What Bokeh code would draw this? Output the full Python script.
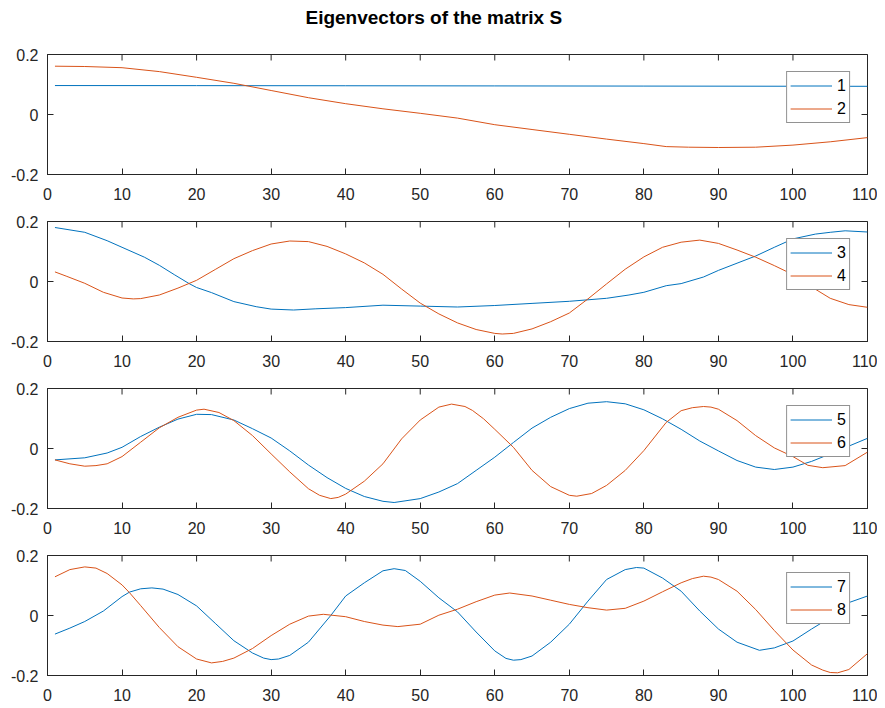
import math
from bokeh.plotting import figure
from bokeh.models import Range1d, FixedTicker, Legend, LegendItem
from bokeh.layouts import column
from bokeh.embed import file_html
from bokeh.resources import INLINE

TITLE = "Eigenvectors of the matrix S"
X_TICKS = [0, 10, 20, 30, 40, 50, 60, 70, 80, 90, 100, 110]
Y_TICKS = [-0.2, 0, 0.2]
Y_TICK_LABELS = {-0.2: "-0.2", 0: "0", 0.2: "0.2"}

# eigenvector 1
x1 = [1, 20, 40, 60, 80, 100, 110]
y1 = [0.0965, 0.0962, 0.0958, 0.0953, 0.0947, 0.0942, 0.094]
# eigenvector 2
x2 = [1, 5, 10, 15, 20, 25, 30, 35, 40, 45, 50, 55, 60, 65, 70, 75, 80, 83, 86, 90, 95, 100, 105, 110]
y2 = [0.161, 0.160, 0.156, 0.143, 0.124, 0.104, 0.080, 0.056, 0.036, 0.019, 0.004, -0.012, -0.034,
      -0.050, -0.066, -0.082, -0.097, -0.107, -0.109, -0.110, -0.109, -0.102, -0.091, -0.077]
# eigenvector 3
x3 = [1, 5, 8, 10, 13, 15, 17, 19, 20, 22, 25, 28, 30, 33, 36, 40, 45, 50, 55, 60, 65, 70, 75, 78,
      80, 83, 85, 88, 90, 92.5, 95, 97.5, 100, 103, 105, 107, 110]
y3 = [0.180, 0.164, 0.136, 0.114, 0.081, 0.054, 0.023, -0.007, -0.020, -0.037, -0.067, -0.084, -0.092,
      -0.095, -0.091, -0.087, -0.079, -0.082, -0.085, -0.080, -0.073, -0.066, -0.056, -0.045, -0.036,
      -0.014, -0.007, 0.015, 0.037, 0.061, 0.085, 0.114, 0.142, 0.158, 0.164, 0.169, 0.165]
# eigenvector 4
x4 = [1, 2.5, 5, 7.5, 10, 11.5, 12.5, 15, 17.5, 20, 22.5, 25, 27.5, 30, 32.5, 35, 37.5, 40, 42.5, 45,
      47.5, 50, 52.5, 55, 57.5, 60, 61, 62.5, 65, 67.5, 70, 72.5, 75, 77.5, 80, 82.5, 85, 87.5, 90,
      92.5, 95, 97.5, 100, 102.5, 105, 107.5, 110]
y4 = [0.032, 0.018, -0.006, -0.036, -0.055, -0.058, -0.057, -0.045, -0.022, 0.004, 0.040, 0.076,
      0.103, 0.125, 0.135, 0.133, 0.117, 0.092, 0.062, 0.024, -0.025, -0.072, -0.108, -0.138, -0.160,
      -0.173, -0.175, -0.173, -0.158, -0.134, -0.105, -0.058, -0.008, 0.041, 0.082, 0.114, 0.131,
      0.138, 0.127, 0.105, 0.081, 0.053, 0.023, -0.018, -0.056, -0.077, -0.086]
# eigenvector 5
x5 = [1, 5, 8, 10, 12.5, 15, 17.5, 20, 22, 25, 27.5, 30, 32.5, 35, 37.5, 40, 42.5, 45, 46.5, 50, 52.5,
      55, 57.5, 60, 62.5, 65, 67.5, 70, 72.5, 75, 77.5, 80, 82.5, 85, 87.5, 90, 92.5, 95, 97.5, 100,
      102.5, 105, 107.5, 110]
y5 = [-0.038, -0.031, -0.015, 0.004, 0.040, 0.071, 0.098, 0.114, 0.113, 0.095, 0.066, 0.035, -0.008,
      -0.055, -0.097, -0.133, -0.160, -0.176, -0.180, -0.167, -0.145, -0.117, -0.073, -0.029, 0.020,
      0.068, 0.104, 0.133, 0.151, 0.156, 0.149, 0.129, 0.099, 0.064, 0.025, -0.008, -0.040, -0.062,
      -0.070, -0.062, -0.043, -0.018, 0.008, 0.034]
# eigenvector 6
x6 = [1, 3, 5, 6.5, 8, 10, 12.5, 15, 17.5, 20, 21, 23, 25, 27.5, 30, 32.5, 35, 36.5, 38, 39, 40, 42.5,
      45, 47.5, 50, 52.5, 54.2, 56, 57, 58.5, 60, 62.5, 65, 67.5, 70, 71, 73, 75, 77.5, 80, 83, 85,
      86.5, 88, 89, 90, 92.5, 95, 97.5, 100, 102, 104, 107, 110]
y6 = [-0.038, -0.051, -0.059, -0.057, -0.051, -0.027, 0.021, 0.069, 0.104, 0.128, 0.131, 0.120, 0.093,
      0.043, -0.018, -0.078, -0.134, -0.156, -0.167, -0.163, -0.152, -0.109, -0.051, 0.032, 0.095,
      0.138, 0.148, 0.140, 0.127, 0.099, 0.064, 0.004, -0.073, -0.127, -0.156, -0.159, -0.150,
      -0.123, -0.073, -0.007, 0.087, 0.126, 0.136, 0.140, 0.138, 0.131, 0.093, 0.043, 0.002, -0.027,
      -0.056, -0.064, -0.057, -0.012]
# eigenvector 7
x7 = [1, 3, 5, 7.5, 10, 11, 12.5, 14, 15.5, 17.5, 20, 22.5, 25, 27.5, 29, 30, 31, 32.5, 35, 38, 40,
      42.5, 45, 46.5, 48, 50, 52.5, 55, 57.5, 60, 61.5, 62.5, 63.5, 65, 67.5, 70, 72.5, 75, 77.5, 79,
      80, 82.5, 85, 87.5, 90, 92.5, 95.5, 97.5, 100, 102.5, 105, 107.5, 110]
y7 = [-0.062, -0.042, -0.020, 0.015, 0.063, 0.078, 0.089, 0.092, 0.088, 0.070, 0.032, -0.026, -0.084,
      -0.125, -0.142, -0.147, -0.145, -0.133, -0.089, 0.000, 0.065, 0.109, 0.149, 0.156, 0.150,
      0.114, 0.059, 0.012, -0.055, -0.118, -0.143, -0.149, -0.147, -0.135, -0.089, -0.029, 0.048,
      0.120, 0.153, 0.160, 0.158, 0.125, 0.081, 0.015, -0.045, -0.089, -0.116, -0.108, -0.085,
      -0.045, -0.007, 0.043, 0.065]
# eigenvector 8
x8 = [1, 3, 5, 6.5, 8, 10, 11, 12.5, 15, 17.5, 20, 22, 23.5, 25, 27.5, 30, 32.5, 35, 37, 40, 42.5, 45,
      47, 50, 52.5, 55, 57.5, 60, 62, 65, 67.5, 70, 72.5, 75, 77.5, 80, 82.5, 85, 86.5, 88, 89, 90,
      92.5, 95, 97.5, 100, 102.5, 104, 105, 106, 107.5, 110]
y8 = [0.129, 0.153, 0.162, 0.158, 0.140, 0.102, 0.076, 0.033, -0.040, -0.104, -0.145, -0.158, -0.153,
      -0.142, -0.110, -0.067, -0.029, -0.002, 0.004, -0.004, -0.020, -0.032, -0.037, -0.029, 0.001,
      0.021, 0.046, 0.068, 0.075, 0.065, 0.051, 0.037, 0.026, 0.018, 0.024, 0.048, 0.079, 0.109,
      0.123, 0.131, 0.128, 0.120, 0.081, 0.020, -0.050, -0.115, -0.165, -0.182, -0.190, -0.191,
      -0.180, -0.127]

PANELS = [
    (("1", x1, y1), ("2", x2, y2)),
    (("3", x3, y3), ("4", x4, y4)),
    (("5", x5, y5), ("6", x6, y6)),
    (("7", x7, y7), ("8", x8, y8)),
]
COLORS = ["#0072BD", "#D95319"]
AX = "#262626"
FONT = "Liberation Sans"
FRAME_W = 820
FRAME_H = 120

# title strip (same width/borders as the panels so the text lines up)
tfig = figure(output_backend="svg", toolbar_location=None,
              frame_width=FRAME_W, frame_height=1,
              x_axis_type=None, y_axis_type=None,
              min_border_left=47, min_border_right=10,
              min_border_top=0, min_border_bottom=45,
              outline_line_color=None, background_fill_color="white",
              border_fill_color="white",
              title=TITLE, title_location="below")
tfig.title.text_font = FONT
tfig.title.text_font_size = "19px"
tfig.title.text_font_style = "bold"
tfig.title.text_color = "#000000"
tfig.title.align = "left"
tfig.title.offset = 258
tfig.title.vertical_align = "top"
tfig.title.standoff = 10


def style_axis(ax):
    ax.axis_line_color = AX
    ax.major_tick_line_color = AX
    ax.major_tick_in = 6
    ax.major_tick_out = 0
    ax.minor_tick_line_color = None
    ax.major_label_text_font = FONT
    ax.major_label_text_font_size = "16px"
    ax.major_label_text_color = AX


figs = [tfig]
n = len(PANELS)
for i, panel in enumerate(PANELS):
    p = figure(output_backend="svg", toolbar_location=None,
               frame_width=FRAME_W, frame_height=FRAME_H,
               x_range=Range1d(0, 110), y_range=Range1d(-0.2, 0.2),
               min_border_left=47, min_border_right=10,
               min_border_top=8 if i == 0 else 11,
               min_border_bottom=33 if i == n - 1 else 36,
               background_fill_color="white", border_fill_color="white",
               outline_line_color=AX, outline_line_width=1)
    p.grid.visible = False
    p.xaxis.ticker = FixedTicker(ticks=X_TICKS)
    p.yaxis.ticker = FixedTicker(ticks=Y_TICKS)
    p.yaxis.major_label_overrides = Y_TICK_LABELS
    style_axis(p.xaxis[0])
    style_axis(p.yaxis[0])
    p.xaxis.major_label_standoff = 13
    p.yaxis.major_label_standoff = 9

    # tick marks on the top and right edges of the box (half clipped by the frame)
    p.scatter(X_TICKS, [0.2] * len(X_TICKS), marker="dash", size=12, angle=math.pi / 2,
              line_color=AX, line_width=1)
    p.scatter([110] * len(Y_TICKS), Y_TICKS, marker="dash", size=12,
              line_color=AX, line_width=1)

    items = []
    for (name, xs, ys), c in zip(panel, COLORS):
        r = p.line(xs, ys, line_color=c, line_width=1)
        items.append(LegendItem(label=name, renderers=[r]))
    leg = Legend(items=items, location="top_right", margin=17,
                 padding=3, spacing=2, glyph_width=42, glyph_height=21,
                 label_height=21, label_width=0, label_standoff=5,
                 label_text_font=FONT, label_text_font_size="16px",
                 label_text_color="#000000",
                 border_line_color=AX, border_line_width=1,
                 background_fill_color="white", background_fill_alpha=1)
    p.add_layout(leg, "center")
    figs.append(p)

layout = column(*figs, spacing=0)
open("out.html", "w").write(file_html(layout, INLINE))
